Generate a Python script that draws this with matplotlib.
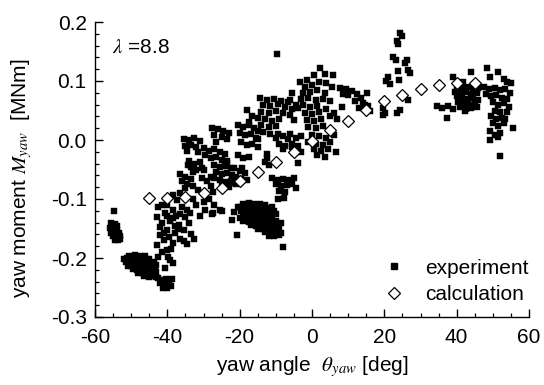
import matplotlib
matplotlib.use("Agg")
import matplotlib.pyplot as plt
from matplotlib.lines import Line2D
from matplotlib.ticker import MultipleLocator, FormatStrFormatter

# ---------------- data ----------------
# calculation (open diamonds)
calc_theta = [-45, -40, -35, -30, -25, -20, -15, -10, -5, 0, 5, 10, 15, 20, 25, 30, 35, 40, 45]
calc_moment = [-0.099, -0.099, -0.097, -0.089, -0.081, -0.069, -0.054, -0.038, -0.021, -0.001,
               0.017, 0.033, 0.051, 0.066, 0.077, 0.086, 0.093, 0.096, 0.096]

# experiment (filled squares), grouped by visible cluster: (theta, moment)
exp_far_left = [(-54.7, -0.120), (-55.6, -0.141), (-54.6, -0.142), (-53.8, -0.145), (-55.9, -0.149),
                (-55.0, -0.150), (-54.0, -0.152), (-55.5, -0.157), (-54.5, -0.158), (-53.5, -0.157),
                (-55.0, -0.163), (-54.0, -0.164), (-53.2, -0.162), (-54.5, -0.169), (-53.6, -0.170),
                (-53.0, -0.167)]

exp_bottom_left = [(-50.5, -0.196), (-49.0, -0.195), (-47.6, -0.197), (-46.1, -0.196),
                   (-52.0, -0.202), (-51.1, -0.200), (-50.0, -0.202), (-49.1, -0.201), (-48.0, -0.203),
                   (-47.1, -0.200), (-46.0, -0.202), (-45.0, -0.201),
                   (-51.5, -0.207), (-50.4, -0.208), (-49.6, -0.206), (-48.5, -0.208), (-47.4, -0.207),
                   (-46.6, -0.209), (-45.5, -0.206), (-44.4, -0.208), (-43.6, -0.206),
                   (-51.0, -0.213), (-50.1, -0.214), (-49.0, -0.212), (-48.1, -0.214), (-47.0, -0.213),
                   (-46.1, -0.215), (-45.0, -0.213), (-44.1, -0.214), (-43.0, -0.212),
                   (-49.6, -0.219), (-48.4, -0.220), (-47.5, -0.219), (-46.4, -0.221), (-45.6, -0.219),
                   (-44.5, -0.220), (-43.4, -0.218),
                   (-48.1, -0.225), (-47.0, -0.226), (-46.0, -0.224), (-45.1, -0.226), (-44.0, -0.225),
                   (-43.1, -0.224), (-46.4, -0.231), (-45.0, -0.232), (-44.0, -0.230), (-43.2, -0.233),
                   (-42.5, -0.234), (-41.5, -0.238), (-40.5, -0.236), (-39.5, -0.239), (-38.7, -0.236),
                   (-42.0, -0.243), (-41.0, -0.246), (-40.0, -0.244), (-39.0, -0.247), (-41.3, -0.251),
                   (-40.2, -0.250)]

exp_rising_band = [(-42.7, -0.114), (-42.9, -0.130), (-42.0, -0.147), (-42.9, -0.178), (-42.5, -0.198),
                   (-40.2, -0.186), (-39.2, -0.203), (-40.6, -0.217), (-41.0, -0.169), (-40.2, -0.153),
                   (-39.2, -0.138), (-40.6, -0.124), (-38.3, -0.119), (-36.9, -0.144), (-35.5, -0.153),
                   (-35.4, -0.172), (-36.5, -0.167), (-37.8, -0.158), (-37.4, -0.102), (-36.0, -0.113),
                   (-34.6, -0.119), (-36.5, -0.090), (-38.3, -0.093), (-40.2, -0.110), (-41.5, -0.110),
                   (-42.0, -0.161), (-39.7, -0.198), (-38.3, -0.209), (-41.5, -0.140), (-41.0, -0.158),
                   (-39.5, -0.165), (-38.5, -0.175), (-39.0, -0.185), (-41.5, -0.190), (-40.0, -0.128),
                   (-38.5, -0.133), (-37.5, -0.128), (-36.5, -0.125), (-35.0, -0.130), (-34.0, -0.140),
                   (-33.5, -0.160), (-34.5, -0.176), (-32.6, -0.168), (-37.0, -0.150), (-38.0, -0.145),
                   (-33.7, -0.124), (-31.0, -0.129), (-27.7, -0.125), (-25.0, -0.120), (-29.5, -0.118),
                   (-32.0, -0.110), (-30.0, -0.105), (-27.0, -0.110), (-33.0, -0.100), (-28.5, -0.100),
                   (-25.4, -0.119), (-27.3, -0.124)]

exp_upper_left = [(-35.5, 0.002), (-34.0, 0.000), (-32.5, 0.003), (-31.0, -0.002), (-35.0, -0.010),
                  (-33.5, -0.008), (-32.0, -0.012), (-34.5, -0.018), (-31.5, -0.020),
                  (-27.6, 0.020), (-26.0, 0.018), (-24.5, 0.016), (-23.0, 0.012), (-27.0, 0.008),
                  (-25.0, 0.005), (-23.5, 0.002), (-26.5, -0.003),
                  (-34.0, -0.036), (-32.5, -0.040), (-31.0, -0.038), (-33.5, -0.046), (-32.0, -0.050),
                  (-30.5, -0.048), (-33.0, -0.055), (-36.5, -0.058), (-35.0, -0.062), (-33.5, -0.066),
                  (-36.0, -0.070), (-34.5, -0.074), (-33.0, -0.078), (-35.0, -0.082),
                  (-30.0, -0.014), (-28.5, -0.018), (-27.0, -0.015), (-25.5, -0.020), (-24.0, -0.024),
                  (-29.5, -0.026), (-28.0, -0.030), (-26.5, -0.028), (-25.0, -0.034), (-23.5, -0.036),
                  (-27.0, -0.042), (-25.5, -0.046), (-24.0, -0.044), (-22.5, -0.048), (-26.5, -0.054),
                  (-25.0, -0.058), (-23.5, -0.056), (-22.0, -0.060), (-27.0, -0.064), (-25.5, -0.068),
                  (-24.0, -0.072), (-22.5, -0.070), (-21.0, -0.074), (-25.0, -0.078), (-23.0, -0.080),
                  (-21.5, -0.048), (-20.0, -0.052), (-18.5, -0.056), (-21.0, -0.062), (-19.5, -0.066),
                  (-18.0, -0.068), (-30.5, -0.065), (-29.0, -0.070), (-28.0, -0.078), (-31.5, -0.085),
                  (-30.0, -0.090), (-27.5, -0.088), (-34.3, -0.042), (-30.0, -0.051), (-28.0, -0.062),
                  (-23.6, -0.039), (-21.8, -0.073), (-19.4, -0.048),
                  (-20.5, 0.026), (-19.0, 0.022), (-17.5, 0.025), (-16.0, 0.020), (-15.0, 0.015),
                  (-20.0, 0.012), (-18.5, 0.008), (-17.0, 0.010), (-15.5, 0.004), (-19.5, -0.004),
                  (-18.0, -0.008), (-16.5, -0.006), (-15.0, -0.012), (-20.5, -0.026), (-19.0, -0.030),
                  (-17.5, -0.028)]

exp_upper_mid = [(-9.6, 0.145), (-14.4, 0.071), (-12.5, 0.068), (-10.5, 0.070), (-8.5, 0.066), (-6.5, 0.064),
                 (-13.5, 0.060), (-11.5, 0.058), (-9.5, 0.061), (-7.5, 0.056), (-5.5, 0.052),
                 (-18.0, 0.051), (-14.0, 0.048), (-12.0, 0.046), (-10.0, 0.050), (-8.0, 0.045),
                 (-6.0, 0.042), (-15.0, 0.038), (-13.0, 0.035), (-11.0, 0.032), (-9.0, 0.036),
                 (-14.0, 0.026), (-12.0, 0.022), (-10.0, 0.024), (-13.5, 0.014), (-11.5, 0.010),
                 (-10.0, 0.004), (-15.0, 0.002), (-9.5, 0.010), (-8.0, 0.006), (-6.5, 0.002),
                 (-9.0, -0.006), (-7.5, -0.010), (-5.5, -0.012), (-8.0, -0.016), (-12.5, -0.023),
                 (-3.8, 0.054), (-16.5, 0.040), (-17.5, 0.030), (-6.1, 0.068), (-12.5, -0.030),
                 (-11.8, -0.042), (-13.0, -0.038)]

exp_near_zero = [(2.2, 0.122), (5.8, 0.110), (-3.3, 0.098), (-1.5, 0.102), (0.5, 0.110), (3.5, 0.112),
                 (-2.0, 0.090), (0.0, 0.094), (2.0, 0.098), (4.0, 0.096), (5.5, 0.090), (-2.5, 0.080),
                 (-0.5, 0.082), (1.5, 0.084), (3.5, 0.080), (-3.0, 0.070), (-1.0, 0.072), (1.0, 0.068),
                 (3.0, 0.070), (5.0, 0.066), (-2.5, 0.060), (-0.5, 0.056), (1.5, 0.058), (-2.0, 0.046),
                 (0.0, 0.044), (2.0, 0.048), (4.0, 0.052), (6.0, 0.046), (-1.5, 0.034), (0.5, 0.032),
                 (2.5, 0.036), (5.0, 0.040), (6.8, 0.036), (-1.0, 0.022), (1.0, 0.020), (3.0, 0.024),
                 (0.0, 0.008), (2.0, 0.006), (4.0, 0.004), (6.0, 0.008), (-1.0, -0.004), (1.0, -0.006),
                 (3.0, -0.008), (5.0, -0.004), (0.5, -0.016), (2.5, -0.018), (4.5, -0.016),
                 (6.5, -0.020), (1.5, -0.026), (3.5, -0.028), (-6.0, 0.010), (-4.5, 0.004),
                 (-3.0, 0.006), (-5.5, -0.006), (-4.0, -0.010), (-3.0, -0.020), (-5.0, -0.022),
                 (-3.9, -0.039), (-5.0, 0.034), (-4.5, 0.060), (-5.5, 0.080)]

exp_below_calc = [(-11.0, -0.065), (-9.5, -0.068), (-8.0, -0.066), (-6.5, -0.068), (-5.0, -0.065),
                  (-10.0, -0.075), (-8.5, -0.078), (-7.0, -0.076), (-5.5, -0.074), (-9.0, -0.086),
                  (-7.5, -0.088), (-4.5, -0.082), (-9.4, -0.100), (-7.8, -0.098)]

exp_low_mid = [(-22.2, -0.136), (-20.8, -0.161), (-21.5, -0.122), (-20.5, -0.114),
               (-19.0, -0.108), (-17.5, -0.107), (-16.0, -0.109), (-14.5, -0.108), (-13.0, -0.110),
               (-20.0, -0.114), (-18.5, -0.115), (-17.0, -0.113), (-15.5, -0.115), (-14.0, -0.114),
               (-12.5, -0.116), (-11.0, -0.114),
               (-19.5, -0.120), (-18.0, -0.121), (-16.5, -0.119), (-15.0, -0.121), (-13.5, -0.120),
               (-12.0, -0.122), (-10.5, -0.120),
               (-19.0, -0.126), (-17.5, -0.127), (-16.0, -0.125), (-14.5, -0.127), (-13.0, -0.126),
               (-11.5, -0.128), (-10.0, -0.126),
               (-20.0, -0.132), (-18.5, -0.133), (-17.0, -0.131), (-15.5, -0.133), (-14.0, -0.132),
               (-12.5, -0.134), (-11.0, -0.132),
               (-19.0, -0.138), (-17.5, -0.139), (-16.0, -0.137), (-14.5, -0.139), (-13.0, -0.138),
               (-11.5, -0.140), (-10.0, -0.138), (-8.5, -0.140),
               (-17.0, -0.144), (-15.5, -0.145), (-14.0, -0.143), (-12.5, -0.145), (-11.0, -0.144),
               (-9.5, -0.146), (-15.0, -0.150), (-13.5, -0.151), (-12.0, -0.149), (-10.5, -0.151),
               (-9.0, -0.150), (-13.0, -0.156), (-11.5, -0.157), (-10.0, -0.155), (-8.5, -0.157),
               (-12.0, -0.162), (-10.5, -0.163), (-9.0, -0.161), (-7.9, -0.182)]

exp_right_mid = [(7.7, 0.088), (9.5, 0.086), (11.0, 0.083), (12.4, 0.078), (8.5, 0.078), (10.0, 0.076),
                 (13.5, 0.072), (15.1, 0.079), (12.0, 0.066), (14.0, 0.062), (15.5, 0.058), (13.0, 0.054),
                 (16.0, 0.050), (8.2, 0.056), (14.6, 0.059), (19.6, 0.054), (19.5, 0.042), (20.2, 0.046),
                 (24.3, 0.051), (23.5, 0.046)]

exp_peak = [(24.3, 0.181), (24.8, 0.176), (23.4, 0.167), (23.9, 0.162), (22.4, 0.141), (23.2, 0.136),
            (26.2, 0.136), (25.7, 0.131), (23.8, 0.117), (27.0, 0.113), (26.5, 0.118), (21.0, 0.107),
            (24.0, 0.102), (21.5, 0.095), (26.5, 0.068), (20.5, 0.100)]

exp_right = [(39.0, 0.107), (41.8, 0.099), (43.9, 0.115), (48.3, 0.122), (51.5, 0.116), (49.2, 0.107),
             (53.8, 0.099), (53.0, 0.104), (55.0, 0.096),
             (40.0, 0.090), (41.5, 0.088), (43.0, 0.090), (44.5, 0.086), (46.0, 0.088),
             (39.5, 0.082), (41.0, 0.080), (42.5, 0.082), (44.0, 0.078), (45.5, 0.080),
             (40.0, 0.074), (41.5, 0.072), (43.0, 0.070), (44.5, 0.072), (46.0, 0.068),
             (40.5, 0.064), (42.0, 0.062), (43.5, 0.060), (45.0, 0.062),
             (41.0, 0.056), (42.5, 0.052), (44.0, 0.054), (45.5, 0.056),
             (34.5, 0.058), (36.0, 0.055), (37.5, 0.057), (39.0, 0.053), (37.2, 0.037), (42.3, 0.050),
             (45.5, 0.085),
             (47.5, 0.090), (49.0, 0.086), (50.5, 0.088), (52.0, 0.084), (53.5, 0.086), (54.7, 0.080),
             (48.0, 0.078), (49.5, 0.074), (51.0, 0.076), (52.5, 0.072), (54.0, 0.070),
             (50.0, 0.064), (51.5, 0.060), (53.0, 0.062), (54.5, 0.056),
             (50.5, 0.050), (52.0, 0.047), (53.8, 0.048),
             (49.5, 0.040), (51.0, 0.036), (52.5, 0.038), (50.0, 0.028), (51.5, 0.024), (53.0, 0.028),
             (49.2, 0.016), (52.0, 0.012), (55.6, 0.020), (49.2, 0.000), (51.5, 0.005), (51.9, -0.027),
             (50.5, 0.008), (53.5, 0.035)]

exp_clusters = [exp_far_left, exp_bottom_left, exp_rising_band, exp_upper_left, exp_upper_mid,
                exp_near_zero, exp_below_calc, exp_low_mid, exp_right_mid, exp_peak, exp_right]

x_ticks = [-60, -40, -20, 0, 20, 40, 60]
y_ticks = [-0.3, -0.2, -0.1, 0.0, 0.1, 0.2]

# ---------------- figure ----------------
plt.rcParams['font.family'] = ['Liberation Sans', 'DejaVu Sans']
plt.rcParams['mathtext.fontset'] = 'stix'
plt.rcParams['axes.unicode_minus'] = False

W, H = 544, 385
fig = plt.figure(figsize=(W / 100, H / 100), dpi=100)
ax = fig.add_axes([95 / W, 1 - 317 / H, (529 - 95) / W, (317 - 22) / H])

exp_theta = [p[0] for c in exp_clusters for p in c]
exp_moment = [p[1] for c in exp_clusters for p in c]

ax.plot(exp_theta, exp_moment, linestyle='none', marker='s', ms=3.8, mfc='black', mec='black',
        mew=0.3, zorder=2)
ax.plot(calc_theta, calc_moment, linestyle='none', marker='D', ms=6.0, mfc='white', mec='black',
        mew=0.9, zorder=3)

ax.set_xlim(-60, 60)
ax.set_ylim(-0.3, 0.2)
ax.set_xticks(x_ticks)
ax.set_yticks(y_ticks)
ax.xaxis.set_major_formatter(FormatStrFormatter('%d'))
ax.yaxis.set_major_formatter(FormatStrFormatter('%.1f'))
ax.xaxis.set_minor_locator(MultipleLocator(5))
ax.yaxis.set_minor_locator(MultipleLocator(0.02))

for s in ['top', 'right']:
    ax.spines[s].set_visible(False)
for s in ['left', 'bottom']:
    ax.spines[s].set_linewidth(1.0)

ax.tick_params(which='major', direction='in', length=6, width=1.0, labelsize=15)
ax.tick_params(axis='y', which='major', pad=6)
ax.tick_params(axis='x', which='major', pad=8)
ax.tick_params(which='minor', direction='in', length=3, width=0.9)

ax.set_xlabel(r'yaw angle  $\theta_{yaw}$ [deg]', fontsize=15, labelpad=5)
ax.set_ylabel(r'yaw moment $M_{yaw}$  [MNm]', fontsize=15)
ax.yaxis.set_label_coords(-0.14, 0.47)

ax.text(0.039, 0.912, r'$\lambda$ =8.8', transform=ax.transAxes, fontsize=15, ha='left', va='center')

handles = [Line2D([], [], linestyle='none', marker='s', ms=5, mfc='black', mec='black'),
           Line2D([], [], linestyle='none', marker='D', ms=6.0, mfc='white', mec='black', mew=0.9)]
ax.legend(handles, ['experiment', 'calculation'], loc='lower right', bbox_to_anchor=(1.019, 0.016),
          frameon=False, fontsize=15, handlelength=1.0, handletextpad=1.0, labelspacing=0.35,
          borderaxespad=0)

fig.savefig('out.png', dpi=100)
